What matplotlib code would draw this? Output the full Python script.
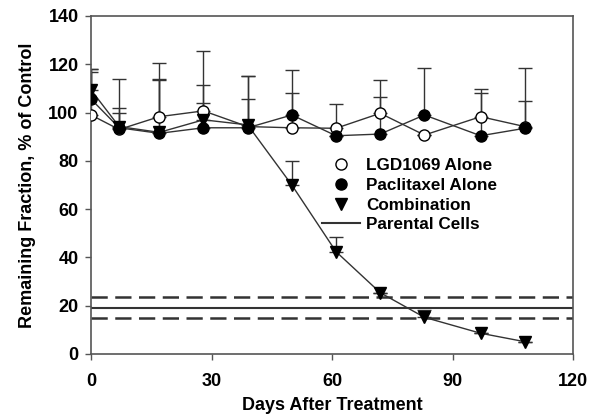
import matplotlib
matplotlib.use("Agg")
import matplotlib.pyplot as plt
from matplotlib.lines import Line2D
import numpy as np

plt.rcParams['font.family'] = ['Liberation Sans', 'DejaVu Sans']
plt.rcParams['font.weight'] = 'bold'

days = [0, 7, 17, 28, 39, 50, 61, 72, 83, 97, 108]
lgd = [99, 93, 98.3, 100.7, 94.2, 93.7, 93.5, 99.7, 90.7, 98.3, 94.2]
lgd_up = [117, 100, 120.5, 125.5, 115, 108, 103.5, 113.3, 90.7, 109.6, 104.8]
pac = [105.6, 93.7, 91.4, 93.7, 93.7, 99, 90.4, 91.1, 99, 90.4, 93.5]
pac_up = [118, 102, 114, 111.5, 115, 117.5, 90.4, 106.5, 118.6, 108, 118.6]
combo = [109.4, 94.2, 91.8, 97, 94.9, 70, 42.4, 25.4, 15.2, 8.6, 5.1]
combo_up = [118, 114, 113.5, 104, 105.5, 80, 48.3, 25.4, 18.2, 8.6, 5.1]
parental = 19.2
parental_lo = 15.0
parental_hi = 23.5

fig = plt.figure(figsize=(5.97, 4.2), dpi=100)
ax = fig.add_axes([91/597, 1-354/420, 482/597, 338/420])

lc = '#333333'

def draw(y, up, marker, face, ms):
    y = np.array(y); up = np.array(up)
    err = np.vstack([np.zeros_like(y), up - y])
    ax.errorbar(days, y, yerr=err, fmt='none', ecolor=lc, elinewidth=1.0,
                capsize=5, capthick=1.0, zorder=2)
    ax.plot(days, y, color=lc, lw=1.0, zorder=3)
    ax.plot(days, y, ls='none', marker=marker, ms=ms, mfc=face, mec='black',
            mew=1.0, zorder=4)

ax.axhline(parental, color=lc, lw=1.5, zorder=1)
ax.axhline(parental_lo, color=lc, lw=1.8, ls=(0, (6.5, 3)), zorder=1)
ax.axhline(parental_hi, color=lc, lw=1.8, ls=(0, (6.5, 3)), zorder=1)

draw(lgd, lgd_up, 'o', 'white', 8)
draw(pac, pac_up, 'o', 'black', 8)
draw(combo, combo_up, 'v', 'black', 8)

ax.set_xlim(0, 120)
ax.set_ylim(0, 140)
ax.set_xticks([0, 30, 60, 90, 120])
ax.set_yticks(range(0, 141, 20))
for s in ax.spines.values():
    s.set_color('#555555')
    s.set_linewidth(1.2)
ax.tick_params(direction='out', length=4, width=1, color='#555555',
               labelsize=13)
ax.tick_params(axis='y', pad=5)
ax.tick_params(axis='x', pad=10)
for t in ax.get_xticklabels() + ax.get_yticklabels():
    t.set_fontweight('bold')

ax.set_xlabel('Days After Treatment', fontsize=13, fontweight='bold', labelpad=5)
ax.set_ylabel('Remaining Fraction, % of Control', fontsize=13, fontweight='bold', labelpad=9)

handles = [
    Line2D([], [], ls='none', marker='o', ms=8, mfc='white', mec='black'),
    Line2D([], [], ls='none', marker='o', ms=8, mfc='black', mec='black'),
    Line2D([], [], ls='none', marker='v', ms=8, mfc='black', mec='black'),
    Line2D([], [], color=lc, lw=1.5),
]
labels = ['LGD1069 Alone', 'Paclitaxel Alone', 'Combination', 'Parental Cells']
leg = ax.legend(handles, labels, loc='upper left', bbox_to_anchor=(0.465, 0.6),
                frameon=False, fontsize=12.3, handlelength=2.2, handletextpad=0.4,
                labelspacing=0.28, borderaxespad=0)
for t in leg.get_texts():
    t.set_fontweight('bold')

fig.savefig('out.png', dpi=100)
